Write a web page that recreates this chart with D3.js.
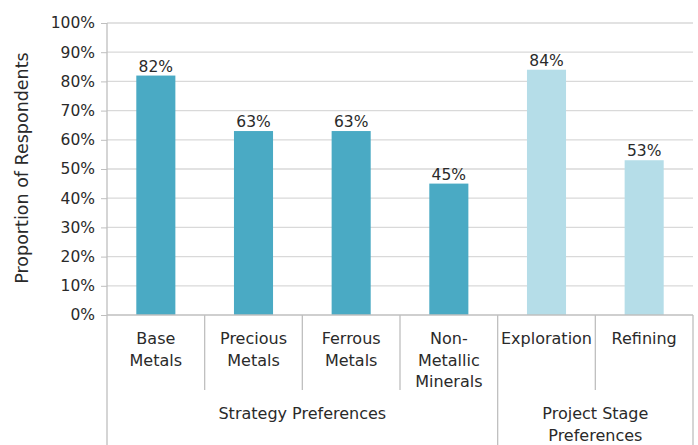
<!DOCTYPE html>
<html><head><meta charset="utf-8">
<script src="https://cdn.jsdelivr.net/npm/d3@7"></script>
<style>body{margin:0;background:#fff}svg{display:block}text{font-family:"DejaVu Sans",sans-serif}</style>
</head><body><svg id="c" width="698" height="445"></svg>
<script>
const categories = ["Base\nMetals","Precious\nMetals","Ferrous\nMetals","Non-\nMetallic\nMinerals","Exploration","Refining"];
const values = [82,63,63,45,84,53];
const groupOf = [0,0,0,0,1,1];
const groups = ["Strategy Preferences","Project Stage\nPreferences"];
const groupColors = ["#4aaac4","#b5dde8"];
const yTicks = [0,10,20,30,40,50,60,70,80,90,100];

const svg = d3.select("#c");
const L=107, R=693, T=23, B=315;
const txt="#2a2a2a";
const x = d3.scaleBand().domain(d3.range(categories.length)).range([L,R]).paddingInner(0.6).paddingOuter(0.3);
const xb = d3.scaleBand().domain(d3.range(categories.length)).range([L,R]);
const y = d3.scaleLinear().domain([0,100]).range([B,T]);
const grid="#d9d9d9", axisC="#bfbfbf";

svg.append("g").selectAll("line").data(yTicks.filter(d=>d>0)).join("line")
  .attr("x1",L).attr("x2",R).attr("y1",d=>y(d)).attr("y2",d=>y(d)).attr("stroke",grid).attr("stroke-width",1.3);
const ya = svg.append("g").attr("transform",`translate(${L},0)`)
  .call(d3.axisLeft(y).tickValues(yTicks).tickFormat(d=>d+"%").tickSize(6).tickPadding(6));
ya.select(".domain").remove();
ya.selectAll("line").attr("stroke",axisC);
ya.selectAll("text").style("font-size","15.5px").attr("fill",txt);
svg.append("line").attr("x1",L).attr("x2",L).attr("y1",T).attr("y2",445).attr("stroke",axisC).attr("stroke-width",1.3);

svg.append("g").selectAll("rect").data(values).join("rect")
  .attr("x",(d,i)=>x(i)).attr("width",x.bandwidth())
  .attr("y",d=>y(d)).attr("height",d=>B-y(d))
  .attr("fill",(d,i)=>groupColors[groupOf[i]]);
svg.append("g").selectAll("text").data(values).join("text")
  .attr("x",(d,i)=>x(i)+x.bandwidth()/2).attr("y",d=>y(d)-4)
  .attr("text-anchor","middle").attr("fill",txt).style("font-size","15.5px").text(d=>d+"%");

svg.append("line").attr("x1",L).attr("x2",R).attr("y1",B).attr("y2",B).attr("stroke",axisC).attr("stroke-width",1.3);
const divs = d3.range(1,categories.length+1);
svg.append("g").selectAll("line").data(divs).join("line")
  .attr("x1",i=>xb(i-1)+xb.bandwidth()).attr("x2",i=>xb(i-1)+xb.bandwidth())
  .attr("y1",B).attr("y2",i=>(i===categories.length || groupOf[i]!==groupOf[i-1]) ? 445 : 390)
  .attr("stroke",axisC).attr("stroke-width",1.3);
categories.forEach((c,i)=>{
  const t = svg.append("text").attr("text-anchor","middle").attr("fill",txt).style("font-size","16px")
    .attr("y",344);
  c.split("\n").forEach((s,j)=>t.append("tspan").attr("x",xb(i)+xb.bandwidth()/2).attr("dy",j?21.5:0).text(s));
});
groups.forEach((g,k)=>{
  const idx = d3.range(categories.length).filter(i=>groupOf[i]===k);
  const cx = (xb(idx[0]) + xb(idx[idx.length-1])+xb.bandwidth())/2;
  const t = svg.append("text").attr("text-anchor","middle").attr("fill",txt).style("font-size","16px").attr("y",419);
  g.split("\n").forEach((s,j)=>t.append("tspan").attr("x",cx).attr("dy",j?21.5:0).text(s));
});
svg.append("text").attr("transform",`translate(28,168) rotate(-90)`).attr("text-anchor","middle")
  .attr("fill",txt).style("font-size","17.5px").text("Proportion of Respondents");
</script></body></html>
